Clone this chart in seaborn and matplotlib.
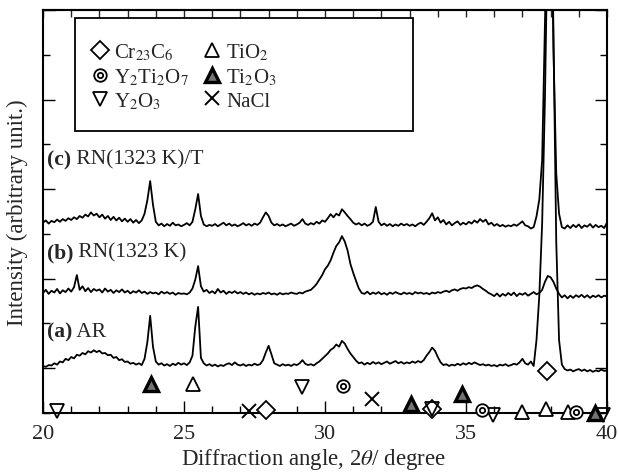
import numpy as np
import pandas as pd
import matplotlib
matplotlib.use("Agg")
import matplotlib.pyplot as plt
from matplotlib.lines import Line2D
from matplotlib.patches import Rectangle
from matplotlib.legend_handler import HandlerTuple
from matplotlib.ticker import MultipleLocator
import seaborn as sns

# scan angle, 0.1 deg step
theta = np.round(np.linspace(20, 40, 201), 1)

# intensities (each relative to its own baseline)
a_counts = [
    0.02, 0.00, 0.04, 0.03, 0.08, 0.05, 0.12, 0.10, 0.18, 0.15,
    0.22, 0.19, 0.27, 0.25, 0.31, 0.28, 0.35, 0.32, 0.37, 0.33,
    0.36, 0.30, 0.31, 0.26, 0.27, 0.20, 0.22, 0.15, 0.17, 0.11,
    0.12, 0.07, 0.09, 0.05, 0.08, 0.04, 0.18, 0.55, 1.14, 0.45,
    0.12, 0.05, 0.08, 0.03, 0.06, 0.02, 0.07, 0.04, 0.09, 0.05,
    0.08, 0.04, 0.10, 0.25, 0.90, 1.34, 0.20, 0.08, 0.03, 0.06,
    0.02, 0.05, 0.01, 0.04, 0.02, 0.06, 0.08, 0.04, 0.10, 0.05,
    0.03, 0.06, 0.02, 0.05, 0.03, 0.07, 0.04, 0.06, 0.15, 0.32,
    0.47, 0.28, 0.08, 0.05, 0.02, 0.06, 0.03, 0.05, 0.02, 0.06,
    0.04, 0.08, 0.15, 0.07, 0.04, 0.06, 0.03, 0.08, 0.12, 0.18,
    0.24, 0.30, 0.38, 0.42, 0.50, 0.45, 0.58, 0.52, 0.40, 0.30,
    0.22, 0.14, 0.08, 0.10, 0.05, 0.09, 0.06, 0.11, 0.07, 0.10,
    0.06, 0.09, 0.12, 0.07, 0.10, 0.13, 0.08, 0.11, 0.07, 0.10,
    0.08, 0.12, 0.09, 0.13, 0.10, 0.15, 0.25, 0.33, 0.43, 0.36,
    0.22, 0.10, 0.04, 0.06, 0.02, 0.05, 0.03, 0.07, 0.04, 0.08,
    0.05, 0.09, 0.06, 0.10, 0.07, 0.04, 0.06, 0.03, 0.05, 0.02,
    0.04, 0.01, 0.05, 0.03, 0.06, 0.02, 0.04, 0.07, 0.05, 0.10,
    0.18, 0.08, 0.05, 0.12, 0.02, 0.60, 1.60, 3.20, 6.00, 10.0,
    12.0, 7.50, 2.80, 0.60, 0.05, -0.05, -0.08, -0.06, -0.10, -0.07,
    -0.05, -0.09, -0.06, -0.10, -0.07, -0.11, -0.08, -0.10, -0.06, -0.09,
    -0.08,
]
b_counts = [
    0.05, 0.12, 0.03, 0.10, 0.06, 0.14, 0.04, 0.11, 0.07, 0.15,
    0.08, 0.18, 0.45, 0.12, 0.20, 0.09, 0.16, 0.07, 0.14, 0.10,
    0.13, 0.06, 0.15, 0.08, 0.12, 0.05, 0.11, 0.07, 0.13, 0.06,
    0.10, 0.04, 0.09, 0.06, 0.11, 0.05, 0.08, 0.03, 0.07, 0.04,
    0.06, 0.02, 0.08, 0.04, 0.07, 0.03, 0.06, 0.01, 0.05, 0.03,
    0.04, 0.02, 0.06, 0.15, 0.35, 0.65, 0.20, 0.08, 0.12, 0.05,
    0.09, 0.04, 0.14, 0.06, 0.10, 0.03, 0.08, 0.05, 0.09, 0.04,
    0.07, 0.03, 0.06, 0.02, 0.05, 0.01, 0.04, 0.02, 0.05, 0.03,
    0.06, 0.02, 0.04, 0.01, 0.05, 0.02, 0.04, 0.03, 0.06, 0.04,
    0.03, 0.06, 0.04, 0.08, 0.10, 0.12, 0.18, 0.25, 0.35, 0.45,
    0.58, 0.66, 0.78, 0.95, 1.10, 1.18, 1.32, 1.20, 1.00, 0.70,
    0.50, 0.32, 0.15, 0.05, 0.03, 0.08, 0.02, 0.06, 0.03, 0.07,
    0.02, 0.05, 0.01, 0.06, 0.03, 0.07, 0.04, 0.02, 0.06, 0.03,
    0.05, 0.02, 0.07, 0.04, 0.06, 0.03, 0.05, 0.02, 0.06, 0.04,
    0.07, 0.05, 0.08, 0.10, 0.07, 0.11, 0.13, 0.10, 0.14, 0.16,
    0.15, 0.18, 0.16, 0.20, 0.22, 0.19, 0.14, 0.10, 0.05, 0.02,
    -0.02, 0.04, -0.03, 0.03, -0.01, 0.05, 0.00, 0.06, -0.02, 0.04,
    0.01, 0.05, -0.01, 0.03, 0.07, 0.02, 0.05, 0.12, 0.30, 0.43,
    0.40, 0.30, 0.15, 0.03, -0.05, 0.00, -0.07, -0.01, -0.06, 0.00,
    -0.04, 0.01, -0.05, 0.00, -0.06, -0.01, -0.04, 0.00, -0.05, -0.01,
    -0.03,
]
c_counts = [
    0.10, 0.15, 0.08, 0.14, 0.11, 0.17, 0.12, 0.18, 0.14, 0.20,
    0.16, 0.22, 0.18, 0.25, 0.21, 0.28, 0.24, 0.33, 0.26, 0.30,
    0.22, 0.28, 0.19, 0.25, 0.16, 0.23, 0.15, 0.21, 0.13, 0.19,
    0.12, 0.18, 0.10, 0.16, 0.09, 0.15, 0.30, 0.60, 1.03, 0.50,
    0.12, 0.04, 0.08, 0.02, 0.07, 0.03, 0.10, 0.04, 0.06, 0.02,
    0.05, 0.09, 0.04, 0.12, 0.40, 0.74, 0.25, 0.06, 0.02, 0.05,
    0.03, 0.07, 0.02, 0.06, 0.10, 0.04, 0.08, 0.03, 0.06, 0.02,
    0.05, 0.09, 0.04, 0.07, 0.03, 0.08, 0.05, 0.10, 0.22, 0.33,
    0.25, 0.10, 0.04, 0.07, 0.03, 0.06, 0.02, 0.05, 0.08, 0.03,
    0.06, 0.10, 0.18, 0.08, 0.05, 0.09, 0.06, 0.12, 0.08, 0.15,
    0.12, 0.20, 0.29, 0.22, 0.30, 0.26, 0.40, 0.33, 0.25, 0.18,
    0.10, 0.06, 0.09, 0.04, 0.08, 0.03, 0.06, 0.12, 0.45, 0.12,
    0.04, 0.08, 0.03, 0.07, 0.02, 0.06, 0.03, 0.08, 0.04, 0.07,
    0.03, 0.06, 0.02, 0.07, 0.10, 0.05, 0.12, 0.20, 0.31, 0.15,
    0.22, 0.10, 0.16, 0.06, 0.12, 0.04, 0.09, 0.13, 0.05, 0.10,
    0.06, 0.12, 0.08, 0.15, 0.10, 0.18, 0.12, 0.17, 0.06, 0.10,
    0.03, 0.07, 0.02, 0.05, 0.01, 0.04, 0.02, 0.06, 0.03, 0.08,
    0.13, 0.04, 0.02, -0.03, 0.00, 0.24, 0.62, 1.50, 4.50, 8.00,
    9.00, 4.00, 1.20, 0.30, 0.00, -0.03, 0.04, -0.02, 0.05, 0.00,
    0.06, -0.02, 0.04, 0.01, 0.07, -0.01, 0.05, 0.00, 0.03, -0.02,
    0.10,
]

samples = ["a", "b", "c"]
sample_bold = ["(a)", "(b)", "(c)"]
sample_names = ["AR", "RN(1323 K)", "RN(1323 K)/T"]

# phase marks (2theta, marker height)
cr23c6_x, cr23c6_y = [27.9, 33.8, 37.87], [0.07, 0.09, 0.94]
y2ti2o7_x, y2ti2o7_y = [30.64, 35.57, 38.9], [0.60, 0.07, 0.02]
y2o3_x, y2o3_y = [20.5, 29.18, 33.8, 35.96, 39.86], [0.04, 0.58, 0.09, -0.04, -0.04]
tio2_x, tio2_y = [25.32, 36.99, 37.84, 38.6], [0.65, 0.02, 0.09, 0.02]
ti2o3_x, ti2o3_y = [23.83, 33.05, 34.86, 39.57], [0.65, 0.20, 0.42, 0.00]
nacl_x, nacl_y = [27.3, 31.67], [0.04, 0.31]

offsets = {"a": 1.03, "b": 2.63, "c": 4.15}
label_y = {"a": 1.83, "b": 3.59, "c": 5.67}

sns.set_theme(style="ticks")
plt.rcParams["font.family"] = ["Liberation Serif", "DejaVu Serif"]
plt.rcParams["mathtext.fontset"] = "stix"

frames = []
for s, vals in zip(samples, [a_counts, b_counts, c_counts]):
    frames.append(pd.DataFrame({"theta": theta,
                                "intensity": np.array(vals) + offsets[s],
                                "sample": s}))
df = pd.concat(frames, ignore_index=True)

fig = plt.figure(figsize=(6.18, 4.77), dpi=100)
ax = fig.add_axes([0.0696, 0.1321, 0.9126, 0.8449])

sns.lineplot(data=df, x="theta", y="intensity", hue="sample",
             palette=["black"] * 3, legend=False, estimator=None,
             sort=False, linewidth=1.3, ax=ax)

mk = dict(linestyle="none", color="black", clip_on=False, zorder=5)
ax.plot(cr23c6_x, cr23c6_y, marker="D", ms=9.5, mfc="white", mew=1.3, **mk)
ax.plot(y2o3_x, y2o3_y, marker="v", ms=9.5, mfc="none", mew=1.3, **mk)
ax.plot(tio2_x, tio2_y, marker="^", ms=9.5, mfc="white", mew=1.3, **mk)
ax.plot(ti2o3_x, ti2o3_y, marker="^", ms=9.5, mfc="0.45", mew=2.4, **mk)
ax.plot(y2ti2o7_x, y2ti2o7_y, marker="o", ms=9, mfc="white", mew=1.3, **mk)
ax.plot(y2ti2o7_x, y2ti2o7_y, marker="o", ms=3.8, mfc="white", mew=1.3, **mk)
ax.plot(nacl_x, nacl_y, marker="x", ms=9.5, mew=1.4, **mk)

for s, bold, name in zip(samples, sample_bold, sample_names):
    t = ax.text(20.14, label_y[s], bold, fontsize=15.5, fontweight="bold",
                va="center", ha="left")
    ax.annotate(" " + name, xy=(1, 0.5), xycoords=t, fontsize=15.5,
                va="center", ha="left")

ax.set_xlim(20, 40)
ax.set_ylim(0, 9)
ax.xaxis.set_major_locator(MultipleLocator(5))
ax.xaxis.set_minor_locator(MultipleLocator(1))
ax.yaxis.set_major_locator(MultipleLocator(2, offset=1))
ax.yaxis.set_minor_locator(MultipleLocator(1))
ax.tick_params(which="both", direction="in", left=True, right=True,
               bottom=True, top=False, width=1.0, color="black")
ax.tick_params(which="major", length=8.5)
ax.tick_params(which="minor", length=5)
ax.tick_params(axis="x", labelsize=16, pad=8)
ax.set_yticklabels([])
top = ax.secondary_xaxis("top")
top.xaxis.set_major_locator(MultipleLocator(1))
top.tick_params(direction="in", length=5, width=1.0, labeltop=False)
top.spines["top"].set_linewidth(1.5)
for sp in ax.spines.values():
    sp.set_linewidth(1.5)
    sp.set_color("black")

ax.set_xlabel(r"Diffraction angle, 2$\theta$/ degree", fontsize=16.5, labelpad=2)
ax.xaxis.label.set_x(0.48)
ax.set_ylabel("Intensity (arbitrary unit.)", fontsize=16.5, labelpad=7)

ax.add_patch(Rectangle((0.057, 0.70), 0.599, 0.28, transform=ax.transAxes,
                       facecolor="white", edgecolor="black", lw=1.3, zorder=6))

lk = dict(linestyle="none", color="black")
handles = [
    Line2D([], [], marker="D", ms=9.5, mfc="white", mew=1.3, **lk),
    (Line2D([], [], marker="o", ms=9, mfc="white", mew=1.3, **lk),
     Line2D([], [], marker="o", ms=3.8, mfc="white", mew=1.3, **lk)),
    Line2D([], [], marker="v", ms=10, mfc="none", mew=1.3, **lk),
    Line2D([], [], marker="^", ms=10, mfc="white", mew=1.3, **lk),
    Line2D([], [], marker="^", ms=10, mfc="0.45", mew=2.4, **lk),
    Line2D([], [], marker="x", ms=10.5, mew=1.4, **lk),
]
labels = [r"Cr$_{23}$C$_6$", r"Y$_2$Ti$_2$O$_7$", r"Y$_2$O$_3$",
          r"TiO$_2$", r"Ti$_2$O$_3$", "NaCl"]
leg = ax.legend(handles, labels, ncol=2, loc="center left",
                bbox_to_anchor=(0.082, 0.835), frameon=False, fontsize=15,
                handlelength=1.0, handletextpad=0.2, columnspacing=0.6,
                labelspacing=0.2, borderpad=0, borderaxespad=0,
                handler_map={tuple: HandlerTuple(ndivide=1)})
leg.set_zorder(7)

fig.savefig("out.png", dpi=100)
